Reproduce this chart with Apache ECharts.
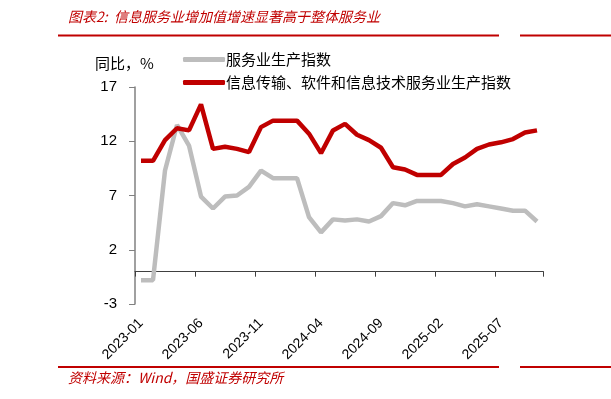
<!DOCTYPE html>
<html>
<head>
<meta charset="utf-8">
<script src="https://cdn.jsdelivr.net/npm/echarts@6/dist/echarts.min.js"></script>
<style>
  html, body { margin: 0; padding: 0; background: #fff; }
  #chart { width: 611px; height: 399px; }
</style>
</head>
<body>
<div id="chart"></div>
<script>
// 月份
const months = [
  '2023-01', '2023-02', '2023-03', '2023-04', '2023-05', '2023-06', '2023-07', '2023-08', '2023-09', '2023-10', '2023-11', '2023-12',
  '2024-01', '2024-02', '2024-03', '2024-04', '2024-05', '2024-06', '2024-07', '2024-08', '2024-09', '2024-10', '2024-11', '2024-12',
  '2025-01', '2025-02', '2025-03', '2025-04', '2025-05', '2025-06', '2025-07', '2025-08', '2025-09', '2025-10'
]
// 服务业生产指数
const serviceIndex = [
  -0.8, -0.8, 9.3, 13.5, 11.6, 6.9, 5.8, 6.9, 7.0, 7.8, 9.3, 8.6,
  8.6, 8.6, 5.0, 3.6, 4.8, 4.7, 4.8, 4.6, 5.1, 6.3, 6.1, 6.5,
  6.5, 6.5, 6.3, 6.0, 6.2, 6.0, 5.8, 5.6, 5.6, 4.6
]
// 信息传输、软件和信息技术服务业生产指数
const infoIndex = [
  10.2, 10.2, 12.1, 13.2, 13.0, 15.4, 11.3, 11.5, 11.3, 11.0, 13.3, 13.9,
  13.9, 13.9, 12.7, 10.9, 13.0, 13.6, 12.6, 12.1, 11.4, 9.6, 9.4, 8.9,
  8.9, 8.9, 9.9, 10.5, 11.3, 11.7, 11.9, 12.2, 12.8, 13.0
]
const yTicks = [-3, 2, 7, 12, 17]

const RED = '#C00000'
const GREY = '#BDBDBD'
const CJK = '"Noto Sans CJK SC", sans-serif'

// 主网格
const GRID_TOP = 87
const GRID_H = 217
const Y_MIN = -3
const Y_MAX = 17
// 零轴所在高度（第二个网格放在这里，用分隔线当刻度）
const zeroTop = GRID_TOP + GRID_H * Y_MAX / (Y_MAX - Y_MIN)

const chart = echarts.init(document.getElementById('chart'))
const options = {
  animation: false,
  textStyle: { fontFamily: CJK },
  graphic: [
    { type: 'text', left: 68, top: 10, style: { text: '图表2:  信息服务业增加值增速显著高于整体服务业', fill: RED, font: 'italic 14px ' + CJK } },
    { type: 'rect', shape: { x: 58, y: 34.5, width: 441, height: 2 }, style: { fill: RED } },
    { type: 'rect', shape: { x: 520, y: 34.5, width: 91, height: 2 }, style: { fill: RED } },
    { type: 'text', left: 95, top: 56, style: { text: '同比，%', fill: '#000', font: '15px ' + CJK } },
    { type: 'rect', shape: { x: 58, y: 366, width: 441, height: 2 }, style: { fill: RED } },
    { type: 'rect', shape: { x: 520, y: 366, width: 91, height: 2 }, style: { fill: RED } },
    { type: 'text', left: 68, top: 371, style: { text: '资料来源：Wind，国盛证券研究所', fill: RED, font: 'italic 14px ' + CJK } }
  ],
  legend: {
    orient: 'vertical',
    left: 178,
    top: 47,
    itemWidth: 42,
    itemHeight: 5,
    itemGap: 8,
    icon: 'roundRect',
    textStyle: { fontSize: 15, color: '#000', fontFamily: CJK, padding: [0, 0, 0, -4] },
    data: ['服务业生产指数', '信息传输、软件和信息技术服务业生产指数']
  },
  grid: [
    { left: 135, right: 68, top: GRID_TOP, height: GRID_H },
    { left: 135, right: 68, top: zeroTop, height: 5 }
  ],
  xAxis: [
    {
      // 底部：只画标签
      type: 'category',
      gridIndex: 0,
      data: months,
      position: 'bottom',
      axisLine: { show: false, onZero: false },
      axisTick: { show: false },
      axisLabel: { interval: 4, rotate: 45, margin: 17, fontSize: 14, color: '#000', fontFamily: 'Liberation Sans' }
    },
    {
      // 零轴：轴线 + 分隔线（当作向下的刻度）
      type: 'category',
      gridIndex: 1,
      data: months,
      position: 'top',
      boundaryGap: true,
      axisLine: { show: true, onZero: false, lineStyle: { color: '#404040', width: 1 } },
      axisTick: { show: true, inside: true, interval: 4, length: 5, lineStyle: { color: '#404040', width: 1 } },
      axisLabel: { show: false },
      splitLine: { show: true, interval: 4, lineStyle: { color: '#404040', width: 1, type: 'solid' } }
    }
  ],
  yAxis: [
    {
      type: 'value',
      gridIndex: 0,
      min: Y_MIN,
      max: Y_MAX,
      splitLine: { show: false },
      axisLine: { show: true, onZero: false, lineStyle: { color: '#808080', width: 1.5 } },
      axisTick: { show: true, length: 6, customValues: yTicks, lineStyle: { color: '#808080' } },
      axisLabel: { customValues: yTicks, margin: 18, fontSize: 15, color: '#000', fontFamily: 'Liberation Sans' }
    },
    {
      type: 'value',
      gridIndex: 1,
      min: 0,
      max: 1,
      axisLine: { show: false },
      axisTick: { show: false },
      axisLabel: { show: false },
      splitLine: { show: false }
    }
  ],
  series: [
    {
      name: '服务业生产指数',
      type: 'line',
      xAxisIndex: 0,
      yAxisIndex: 0,
      data: serviceIndex,
      symbol: 'none',
      color: GREY,
      lineStyle: { width: 4.5, color: GREY }
    },
    {
      name: '信息传输、软件和信息技术服务业生产指数',
      type: 'line',
      xAxisIndex: 0,
      yAxisIndex: 0,
      data: infoIndex,
      symbol: 'none',
      color: RED,
      lineStyle: { width: 4.5, color: RED }
    }
  ]
}
chart.setOption(options)
</script>
</body>
</html>
